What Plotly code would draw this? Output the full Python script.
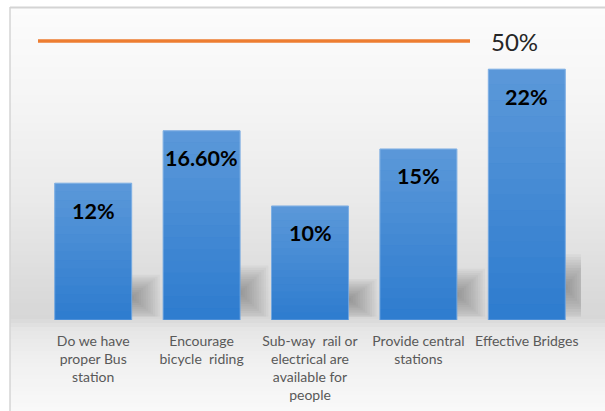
import plotly.graph_objects as go

# ---------------- data ----------------
categories = [
    "Do we have<br>proper Bus<br>station",
    "Encourage<br>bicycle\u00a0 riding",
    "Sub-way\u00a0 rail or<br>electrical are<br>available for<br>people",
    "Provide central<br>stations",
    "Effective Bridges",
]
values = [12, 16.6, 10, 15, 22]
value_labels = ["12%", "16.60%", "10%", "15%", "22%"]
reference_label = "50%"

# ---------------- layout geometry ----------------
W, H = 605, 411
L, R, T, B = 39, 24, 40, 91
PW, PH = W - L - R, H - T - B
Y_MAX = 24.56
BAR_HALF = 0.355


def px_x(px):
    return (px - L) / PW


def px_y(py):
    return (H - B - py) / PH


def lerp(a, b, t):
    return a + (b - a) * t


# background gradient stops (pixel y, gray level)
bg_stops = [(7, 252), (100, 245), (200, 234), (260, 224), (300, 217), (318, 215),
            (330, 230), (360, 240), (411, 249)]


def bg_gray(py):
    for (y0, g0), (y1, g1) in zip(bg_stops[:-1], bg_stops[1:]):
        if y0 <= py <= y1:
            return lerp(g0, g1, (py - y0) / (y1 - y0))
    return bg_stops[-1][1]


shapes = []
step = 4
py = 7
while py < H:
    g = int(round(bg_gray(py + step / 2)))
    shapes.append(dict(type="rect", xref="paper", yref="paper", layer="below",
                       x0=px_x(10), x1=px_x(W + 2), y0=px_y(py), y1=px_y(py + step + 0.6),
                       fillcolor=f"rgb({g},{g},{g})", line=dict(width=0)))
    py += step

# border (top and left)
shapes.append(dict(type="line", xref="paper", yref="paper", layer="below",
                   x0=px_x(10), x1=px_x(W + 2), y0=px_y(7.5), y1=px_y(7.5),
                   line=dict(color="#d4d4d4", width=2)))
shapes.append(dict(type="line", xref="paper", yref="paper", layer="below",
                   x0=px_x(10), x1=px_x(10), y0=px_y(7), y1=px_y(H + 2),
                   line=dict(color="#d4d4d4", width=1.5)))

# soft shadows to the right of bars
n_sh = 12
for i, v in enumerate(values):
    edge = i + BAR_HALF
    cy = 0.09 * v + 0.9
    hy = 0.09 * v + 0.9
    for k in range(1, n_sh + 1):
        f = k / n_sh
        shapes.append(dict(type="rect", xref="x", yref="y", layer="below",
                           x0=edge - 0.01, x1=edge + 0.26 * f,
                           y0=max(0.3, cy - hy * f), y1=cy + hy * f,
                           fillcolor="rgba(80,80,80,0.045)", line=dict(width=0)))

# vertical gradient overlay on bars
n_gr = 16
for i, v in enumerate(values):
    for k in range(n_gr):
        a = 0.22 * (k + 0.5) / n_gr
        shapes.append(dict(type="rect", xref="x", yref="y", layer="above",
                           x0=i - BAR_HALF, x1=i + BAR_HALF,
                           y0=v * k / n_gr, y1=v * (k + 1) / n_gr,
                           fillcolor=f"rgba(255,255,255,{a:.3f})", line=dict(width=0)))

# orange reference line
shapes.append(dict(type="line", xref="paper", yref="paper",
                   x0=px_x(38), x1=px_x(470), y0=px_y(41), y1=px_y(41),
                   line=dict(color="#ED7D31", width=3.5)))

fig = go.Figure(go.Bar(
    x=list(range(len(values))),
    y=values,
    marker=dict(color="rgb(46,124,207)", line=dict(color="rgba(110,165,225,0.9)", width=1)),
    width=2 * BAR_HALF,
    hoverinfo="skip",
))

annotations = []
for i, (v, lab) in enumerate(zip(values, value_labels)):
    annotations.append(dict(x=i, y=v, xref="x", yref="y", text=lab, showarrow=False,
                            yanchor="middle", yshift=-27.5,
                            font=dict(family="Lato", size=21.5, color="#000000", weight="bold")))
annotations.append(dict(x=px_x(489), y=px_y(42), xref="paper", yref="paper",
                        text=reference_label, showarrow=False, xanchor="left", yanchor="middle",
                        font=dict(family="Lato", size=24, color="#262626")))

fig.update_layout(
    width=W, height=H,
    margin=dict(l=L, r=R, t=T, b=B, pad=0),
    paper_bgcolor="white",
    plot_bgcolor="rgba(0,0,0,0)",
    showlegend=False,
    shapes=shapes,
    annotations=annotations,
    xaxis=dict(range=[-0.5, len(values) - 0.5], tickmode="array",
               tickvals=list(range(len(values))), ticktext=categories,
               showgrid=False, zeroline=False, showline=False,
               ticks="outside", ticklen=8, tickcolor="rgba(0,0,0,0)",
               tickfont=dict(family="Lato", size=14, color="#595959"),
               tickangle=0, automargin=False, fixedrange=True),
    yaxis=dict(range=[0, Y_MAX], visible=False, fixedrange=True),
)

fig.write_html("out.html",
               config={"displayModeBar": False, "staticPlot": True},
               post_script="document.body.style.margin='0';document.body.style.overflow='hidden';")
